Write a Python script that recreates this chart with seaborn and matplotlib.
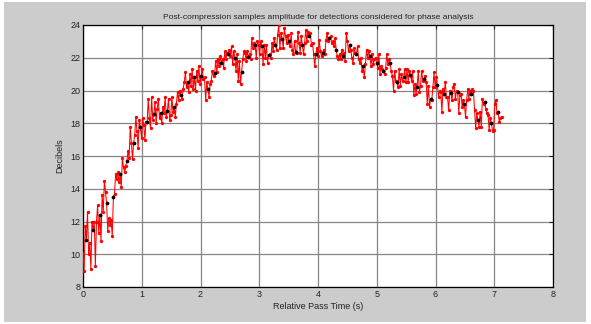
import numpy as np
import pandas as pd
import matplotlib
matplotlib.use("Agg")
import matplotlib.pyplot as plt
from matplotlib.patches import Rectangle
import seaborn as sns

# Post-compression amplitude (dB), one row per 6 consecutive samples
amplitude_db = [
    10.1, 9.0, 11.7, 10.9, 12.6, 10.0,
    10.7, 9.1, 12.0, 11.5, 12.0, 9.3,
    12.0, 13.0, 11.3, 12.4, 10.8, 13.6,
    12.6, 14.5, 13.8, 13.1, 11.4, 12.2,
    11.8, 12.1, 11.1, 13.5, 13.7, 14.9,
    14.6, 15.0, 14.4, 14.9, 14.1, 15.9,
    15.3, 15.0, 15.4, 15.7, 16.3, 15.9,
    17.8, 16.8, 15.8, 16.8, 17.3, 18.4,
    17.5, 16.5, 18.2, 17.75, 17.1, 18.3,
    17.9, 17.0, 18.1, 18.05, 19.5, 18.3,
    17.7, 19.6, 18.2, 18.55, 19.3, 18.0,
    18.9, 19.5, 18.3, 18.6, 18.0, 19.0,
    18.6, 19.6, 18.4, 18.75, 19.5, 18.2,
    18.5, 19.6, 18.7, 19.0, 18.4, 19.2,
    19.9, 19.4, 20.0, 19.75, 19.5, 20.1,
    20.5, 21.1, 20.2, 20.5, 19.9, 21.0,
    20.3, 21.3, 20.1, 20.85, 20.0, 21.2,
    20.6, 21.5, 20.4, 20.9, 21.3, 20.7,
    20.8, 19.4, 20.5, 20.1, 19.6, 20.4,
    20.6, 21.2, 20.9, 21.05, 21.8, 21.1,
    21.9, 21.5, 22.1, 21.7, 21.9, 21.4,
    22.4, 21.9, 22.3, 22.25, 22.5, 22.1,
    22.7, 21.6, 22.4, 22.0, 21.2, 22.2,
    20.6, 21.8, 20.4, 21.15, 21.9, 22.4,
    22.3, 21.8, 22.4, 22.05, 22.2, 21.9,
    23.2, 22.6, 22.9, 22.75, 22.0, 23.0,
    22.8, 22.2, 23.0, 22.7, 21.6, 22.8,
    22.0, 22.8, 21.7, 22.15, 22.2, 22.0,
    22.9, 22.4, 23.2, 22.8, 22.5, 23.4,
    24.0, 22.6, 23.5, 23.15, 22.6, 23.8,
    23.3, 22.9, 23.4, 23.05, 22.7, 23.5,
    22.5, 22.2, 23.0, 22.35, 22.3, 23.6,
    22.9, 22.3, 23.3, 22.8, 22.2, 22.9,
    23.7, 23.0, 23.6, 23.3, 23.5, 22.8,
    22.9, 22.2, 21.5, 22.25, 22.6, 22.1,
    23.1, 22.4, 22.1, 22.3, 22.5, 22.2,
    23.1, 23.5, 23.0, 23.2, 23.3, 22.9,
    23.0, 22.7, 23.2, 22.5, 22.1, 21.9,
    22.2, 21.9, 22.5, 22.1, 22.3, 21.8,
    23.5, 23.0, 22.4, 22.75, 22.5, 22.0,
    21.7, 22.6, 22.3, 22.2, 22.7, 21.9,
    21.7, 22.0, 21.2, 21.5, 20.8, 21.6,
    22.5, 22.0, 22.4, 22.1, 21.5, 22.2,
    21.6, 21.9, 22.0, 21.7, 21.4, 22.2,
    21.0, 21.5, 21.3, 21.2, 21.0, 21.4,
    22.2, 21.6, 21.9, 21.65, 21.2, 20.9,
    20.0, 21.2, 20.6, 20.5, 20.2, 21.3,
    20.3, 21.0, 20.6, 20.8, 21.3, 20.5,
    21.3, 20.5, 21.2, 20.95, 20.6, 21.2,
    19.7, 20.4, 19.8, 20.2, 21.2, 19.9,
    20.3, 21.2, 20.6, 20.7, 20.9, 20.5,
    19.2, 20.3, 19.0, 19.5, 19.4, 20.2,
    21.1, 20.2, 20.8, 20.35, 19.6, 20.0,
    19.9, 18.7, 20.1, 19.8, 20.5, 19.6,
    19.6, 18.8, 20.0, 19.85, 19.4, 20.2,
    20.4, 19.5, 20.0, 19.9, 18.6, 19.7,
    19.8, 19.0, 19.4, 19.15, 18.4, 19.4,
    20.1, 19.5, 20.0, 19.8, 20.1, 20.0,
    18.8, 17.7, 18.6, 18.2, 17.8, 18.7,
    17.8, 19.5, 19.2, 19.3, 18.9, 18.6,
    18.5, 17.6, 18.3, 18.0, 17.5, 17.6,
    19.2, 19.4, 18.6, 18.7, 18.1, 18.3,
    18.4,
]
sample_step_s = 0.01915      # time between samples
marker_every = 6             # every 6th sample is highlighted
marker_offset = 3

x_ticks = [0, 1, 2, 3, 4, 5, 6, 7, 8]
y_ticks = [8, 10, 12, 14, 16, 18, 20, 22, 24]

df = pd.DataFrame({"amp": amplitude_db})
df["t"] = np.arange(len(df)) * sample_step_s
highlight = df.iloc[marker_offset::marker_every]

sns.set_style("white")
plt.rcParams["font.family"] = ["Liberation Sans", "DejaVu Sans"]

fig = plt.figure(figsize=(5.91, 3.24), dpi=100, facecolor="white")
fig.patches.append(Rectangle((4 / 591, 2 / 324), 582 / 591, 320 / 324,
                             transform=fig.transFigure, facecolor="#cccccc",
                             edgecolor="none", zorder=-10))
ax = fig.add_axes([83 / 591, 1 - 287 / 324, 470 / 591, 262 / 324])
ax.set_facecolor("white")

sns.lineplot(data=df, x="t", y="amp", ax=ax, color="red", linewidth=0.75,
             marker="o", markersize=2.4, markeredgewidth=0, sort=False,
             estimator=None, zorder=3)
sns.scatterplot(data=highlight, x="t", y="amp", ax=ax, color="black", s=7,
                linewidth=0, zorder=4)

ax.set_xlim(0, 8)
ax.set_ylim(8, 24)
ax.set_xticks(x_ticks)
ax.set_yticks(y_ticks)
ax.grid(True, color="#858585", linewidth=0.9)
ax.set_axisbelow(True)
for s in ax.spines.values():
    s.set_color("black")
    s.set_linewidth(0.9)
ax.tick_params(direction="in", length=3, width=0.8, top=True, right=True,
               labelsize=6.5, colors="#222222", pad=2)

ax.set_title("Post-compression samples amplitude for detections considered for phase analysis",
             fontsize=6.1, color="#222222", pad=4)
ax.set_xlabel("Relative Pass Time (s)", fontsize=6.5, color="#222222", labelpad=2)
ax.set_ylabel("Decibels", fontsize=6.5, color="#222222", labelpad=4)

fig.savefig("out.png", dpi=100, facecolor=fig.get_facecolor())
